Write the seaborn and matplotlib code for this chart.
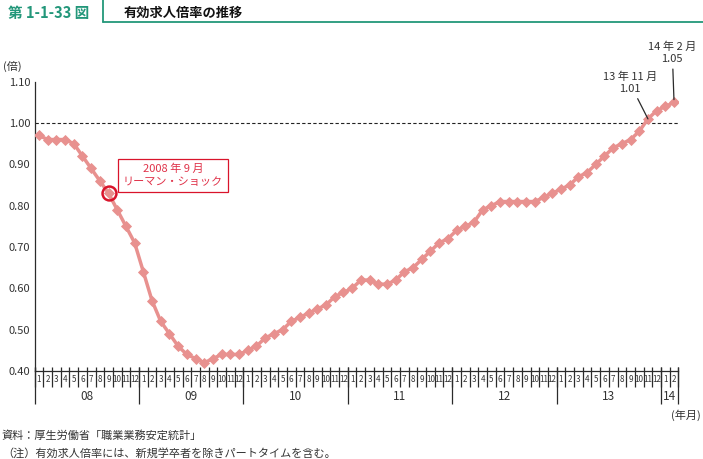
import numpy as np
import pandas as pd
import matplotlib
matplotlib.use("Agg")
import matplotlib.pyplot as plt
import seaborn as sns
from matplotlib.lines import Line2D

# ---------------- data ----------------
ratio_2008 = [0.97, 0.96, 0.96, 0.96, 0.95, 0.92, 0.89, 0.86, 0.83, 0.79, 0.75, 0.71]
ratio_2009 = [0.64, 0.57, 0.52, 0.49, 0.46, 0.44, 0.43, 0.42, 0.43, 0.44, 0.44, 0.44]
ratio_2010 = [0.45, 0.46, 0.48, 0.49, 0.50, 0.52, 0.53, 0.54, 0.55, 0.56, 0.58, 0.59]
ratio_2011 = [0.60, 0.62, 0.62, 0.61, 0.61, 0.62, 0.64, 0.65, 0.67, 0.69, 0.71, 0.72]
ratio_2012 = [0.74, 0.75, 0.76, 0.79, 0.80, 0.81, 0.81, 0.81, 0.81, 0.81, 0.82, 0.83]
ratio_2013 = [0.84, 0.85, 0.87, 0.88, 0.90, 0.92, 0.94, 0.95, 0.96, 0.98, 1.01, 1.03]
ratio_2014 = [1.04, 1.05]

year_labels = ["08", "09", "10", "11", "12", "13", "14"]
months_per_year = [12, 12, 12, 12, 12, 12, 2]
yticks = [0.40, 0.50, 0.60, 0.70, 0.80, 0.90, 1.00, 1.10]

ratio = (ratio_2008 + ratio_2009 + ratio_2010 + ratio_2011 +
         ratio_2012 + ratio_2013 + ratio_2014)
month_labels = []
for n in months_per_year:
    month_labels += [str(m) for m in range(1, n + 1)]

lehman_idx = 8      # 2008-09
nov13_idx = 70      # 2013-11
feb14_idx = 73      # 2014-02

# ---------------- style ----------------
PINK = "#E8918F"
RED = "#D9142B"
RED_TXT = "#E0334A"
TEAL = "#23977A"
DARK = "#2b2b2b"

sns.set_style("white")
plt.rcParams["font.family"] = ["Noto Sans CJK JP", "DejaVu Sans"]

W, H = 703, 459
fig = plt.figure(figsize=(W / 100, H / 100), dpi=100)
ax_left, ax_right, ax_top, ax_bot = 34.6, 678.4, 81.7, 371.0
ax = fig.add_axes([ax_left / W, (H - ax_bot) / H,
                   (ax_right - ax_left) / W, (ax_bot - ax_top) / H])
ax_h = ax_bot - ax_top

df = pd.DataFrame({"t": np.arange(len(ratio)), "ratio": ratio})
sns.lineplot(data=df, x="t", y="ratio", ax=ax, color=PINK, lw=2.5,
             marker="D", markersize=5.6, markeredgecolor=PINK,
             markeredgewidth=0.6, zorder=3)

ax.set_xlim(-0.5, len(ratio) - 0.5)
ax.set_ylim(0.40, 1.10)
ax.set_xlabel("")
ax.set_ylabel("")

ax.set_yticks(yticks)
ax.set_yticklabels([f"{v:.2f}" for v in yticks])
ax.tick_params(axis="y", direction="in", length=5, width=0.9, colors=DARK,
               labelsize=8, labelcolor="#333333", pad=3)

ax.set_xticks(df["t"])
ax.set_xticklabels(month_labels, fontsize=5.8, color="#333333")
ax.tick_params(axis="x", length=0, pad=3.0)

for s in ["top", "right"]:
    ax.spines[s].set_visible(False)
for s in ["left", "bottom"]:
    ax.spines[s].set_color(DARK)
    ax.spines[s].set_linewidth(0.9)

# 1.00 reference line
ax.axhline(1.0, color="#222222", lw=0.8, ls=(0, (3, 2)), zorder=1)

# month / year grid below axis
trans = ax.get_xaxis_transform()
bounds = np.arange(-0.5, len(ratio), 1.0)
ax.vlines(bounds, -16 / ax_h, 4 / ax_h, transform=trans, clip_on=False,
          color=DARK, lw=0.9)
cum = np.cumsum([0] + months_per_year)
year_bounds = cum - 0.5
ax.vlines(year_bounds, -33 / ax_h, 4 / ax_h, transform=trans, clip_on=False,
          color=DARK, lw=0.9)
for i, yl in enumerate(year_labels):
    c = (cum[i] + cum[i + 1] - 1) / 2
    ax.text(c, -25.5 / ax_h, yl, transform=trans, ha="center", va="center",
            fontsize=8.5, color="#333333")

# Lehman shock marker and box
ax.plot(df["t"].iloc[lehman_idx], df["ratio"].iloc[lehman_idx], marker="o",
        ms=10, mfc="none", mec=RED, mew=1.8, zorder=4)
ax.text(15.4, 0.873, "2008 年 9 月\nリーマン・ショック", ha="center",
        va="center", color=RED_TXT, fontsize=8, linespacing=1.35,
        bbox=dict(boxstyle="square,pad=0.45", fc="white", ec=RED, lw=0.9),
        zorder=5)

# peak annotations
ax.annotate("13 年 11 月\n1.01", xy=(nov13_idx, ratio[nov13_idx]),
            xytext=(67.9, 1.097), ha="center", va="center", fontsize=8,
            color="#333333", linespacing=1.25, annotation_clip=False,
            arrowprops=dict(arrowstyle="-", color=DARK, lw=0.9,
                            shrinkA=1, shrinkB=0))
ax.annotate("14 年 2 月\n1.05", xy=(feb14_idx, ratio[feb14_idx]),
            xytext=(72.8, 1.169), ha="center", va="center", fontsize=8,
            color="#333333", linespacing=1.25, annotation_clip=False,
            arrowprops=dict(arrowstyle="-", color=DARK, lw=0.9,
                            shrinkA=1, shrinkB=2))

# header
fig.text(8 / W, 1 - 13 / H, "第 1-1-33 図", color=TEAL, fontsize=10.5,
         fontweight="bold", va="center", ha="left")
fig.text(124 / W, 1 - 13 / H, "有効求人倍率の推移", color="#111111",
         fontsize=9.5, fontweight="bold", va="center", ha="left")
fig.add_artist(Line2D([103 / W, 103 / W], [1, 1 - 22 / H], color=TEAL,
                      lw=1.3, transform=fig.transFigure))
fig.add_artist(Line2D([103 / W, 1], [1 - 22 / H, 1 - 22 / H], color=TEAL,
                      lw=1.3, transform=fig.transFigure))

# axis unit labels
fig.text(3 / W, 1 - 66 / H, "(倍)", fontsize=8, color="#333333",
         va="center", ha="left")
fig.text(686 / W, 1 - 415 / H, "(年月)", fontsize=8, color="#333333",
         va="center", ha="center")

# source / note
fig.text(2 / W, 1 - 435 / H, "資料：厚生労働省「職業業務安定統計」", fontsize=8,
         color="#333333", va="center", ha="left")
fig.text(2 / W, 1 - 453 / H,
         "（注）有効求人倍率には、新規学卒者を除きパートタイムを含む。",
         fontsize=8, color="#333333", va="center", ha="left")

fig.savefig("out.png", dpi=100)
